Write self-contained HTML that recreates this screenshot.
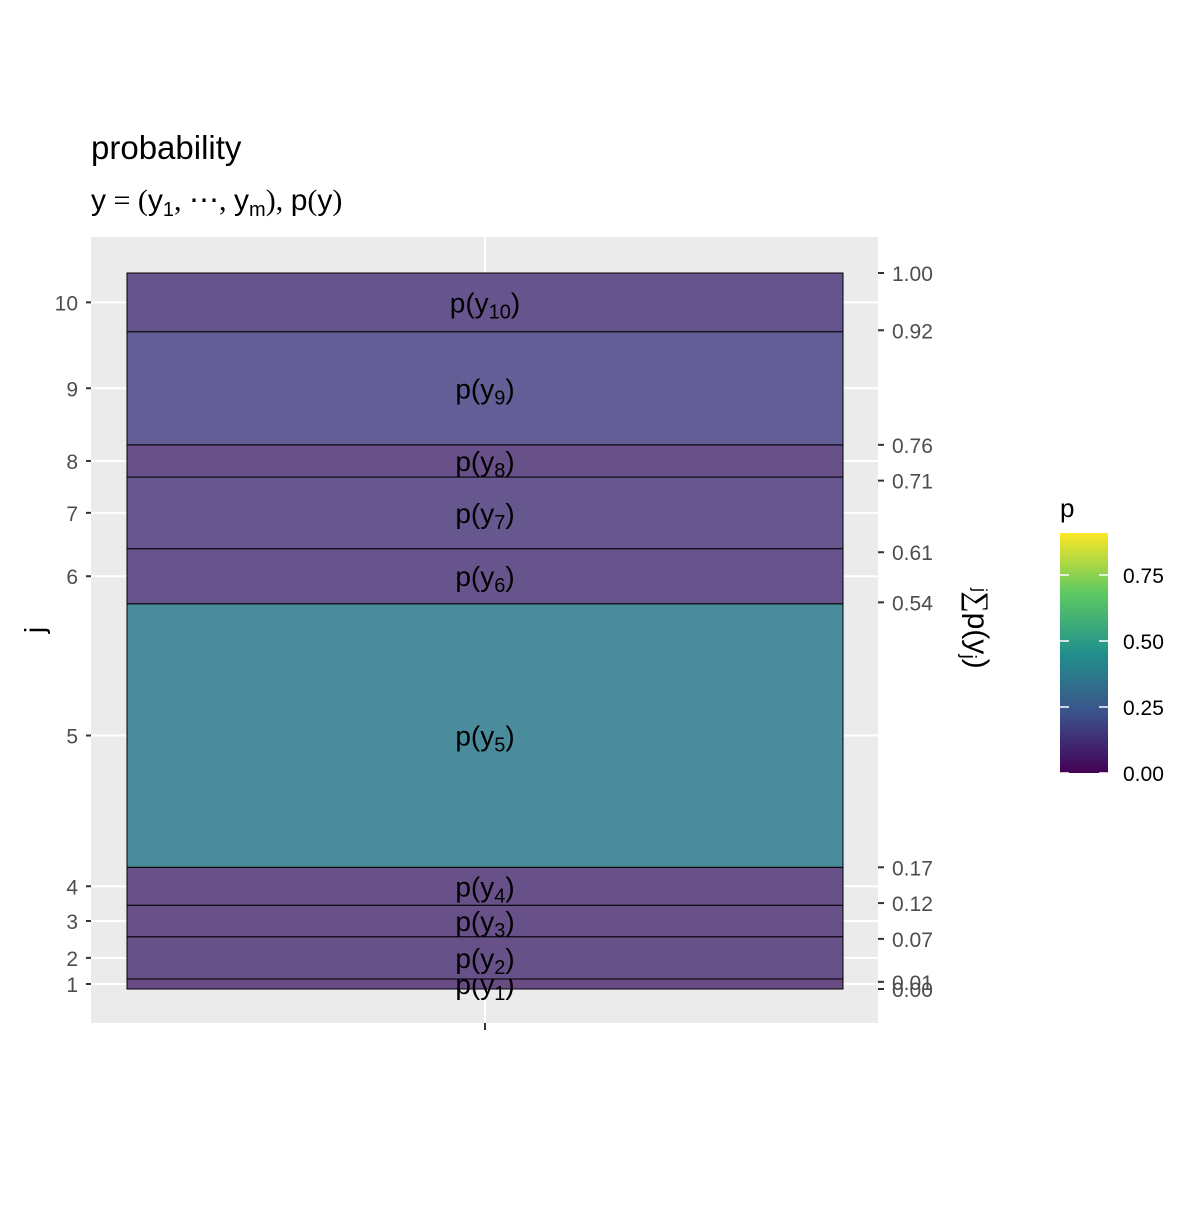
<!DOCTYPE html>
<html><head><meta charset="utf-8"><style>
body{margin:0;background:#fff}
svg{font-family:"Liberation Sans",sans-serif}
</style></head><body>
<svg id="c" width="1200" height="1200" xmlns="http://www.w3.org/2000/svg">
<defs><linearGradient id="vir" x1="0" y1="1" x2="0" y2="0">
<stop offset="0" stop-color="#440154"/><stop offset="0.25" stop-color="#3b528b"/><stop offset="0.5" stop-color="#21908c"/><stop offset="0.75" stop-color="#5dc963"/><stop offset="1" stop-color="#fde725"/></linearGradient></defs>
<rect width="1200" height="1200" fill="#fff"/>
<text x="91" y="159" font-size="33">probability</text>
<text x="91" y="210" font-size="30" font-family="Liberation Serif"><tspan font-family="Liberation Sans">y</tspan> = (<tspan font-family="Liberation Sans">y</tspan><tspan font-size="20" dy="6" font-family="Liberation Sans">1</tspan><tspan dy="-6">, ⋯, </tspan><tspan font-family="Liberation Sans">y</tspan><tspan font-size="20" dy="6" font-family="Liberation Sans">m</tspan><tspan dy="-6">), </tspan><tspan font-family="Liberation Sans">p</tspan>(<tspan font-family="Liberation Sans">y</tspan>)</text>
<rect x="91" y="237" width="787" height="786" fill="#ebebeb"/>
<g id="grid"></g>
<g id="bars"></g>
<g id="axes"></g>
<text transform="translate(44,630) rotate(-90)" text-anchor="middle" font-size="28">j</text>
<g transform="translate(968,630) rotate(90)">
<text x="0" y="0" text-anchor="middle" font-size="30"><tspan font-family="Liberation Serif">∑</tspan>p(y<tspan font-size="20" dy="6">j</tspan><tspan dy="-6">)</tspan></text>
<text x="-40" y="-6" font-size="18" text-anchor="middle" transform="rotate(0)">j</text>
</g>
<text x="1060" y="517" font-size="26">p</text>
<rect x="1060" y="533" width="48" height="240" fill="url(#vir)"/>
<g id="legend"></g>
</svg>
<script>
const probs=[0.014,0.059,0.044,0.053,0.368,0.077,0.100,0.045,0.158,0.082];
const cumTicks=["0.00","0.01","0.07","0.12","0.17","0.54","0.61","0.71","0.76","0.92","1.00"];
const legendTicks=[0,0.25,0.5,0.75];
const legendLabels=["0.00","0.25","0.50","0.75"];
const NS="http://www.w3.org/2000/svg";
const y=v=>989-v*716;
const lg=v=>773-v*264;
function mk(t,a,p){const e=document.createElementNS(NS,t);for(const k in a)e.setAttribute(k,a[k]);p.appendChild(e);return e;}
const stops=[[0,[106,74,130]],[0.16,[99,94,150]],[0.37,[74,140,156]],[0.6,[90,170,120]],[0.9,[240,230,80]]];
function col(p){for(let i=0;i<stops.length-1;i++){const[a,ca]=stops[i],[b,cb]=stops[i+1];if(p<=b){const t=Math.max(0,(p-a)/(b-a));return `rgb(${ca.map((c,k)=>Math.round(c+(cb[k]-c)*t)).join(',')})`;}}return 'rgb(240,230,80)';}
const G=document.getElementById('grid'),B=document.getElementById('bars'),A=document.getElementById('axes'),L=document.getElementById('legend');
let e=mk('line',{x1:485,x2:485,y1:237,y2:1023,stroke:'#fff','stroke-width':2},G);

let cum=0;const mids=[];
probs.forEach((p,i)=>{const y0=y(cum),y1=y(cum+p);const m=(y0+y1)/2;mids.push(m);
 let g=mk('line',{x1:91,x2:878,y1:m,y2:m,stroke:'#fff','stroke-width':2},G);
 
 cum+=p;});
cum=0;
probs.forEach((p,i)=>{const y0=y(cum),y1=y(cum+p);
 let r=mk('rect',{x:127,y:y1,width:716,height:y0-y1,fill:col(p),stroke:'#000','stroke-width':1},B);
 
 let t=mk('text',{x:485,y:mids[i]+10,'text-anchor':'middle','font-size':28},B);
 t.innerHTML=`p(y<tspan font-size="20" dy="6">${i+1}</tspan><tspan dy="-6">)</tspan>`;
 
 let tk=mk('line',{x1:86,x2:91,y1:mids[i],y2:mids[i],stroke:'#333','stroke-width':2},A);
 
 let tl=mk('text',{x:78,y:mids[i]+8,'text-anchor':'end','font-size':21,fill:'#4d4d4d'},A);tl.textContent=i+1;
 
 cum+=p;});
cumTicks.forEach(s=>{const v=parseFloat(s),yy=y(v);
 let tk=mk('line',{x1:878,x2:884,y1:yy,y2:yy,stroke:'#333','stroke-width':2},A);
 
 let tl=mk('text',{x:892,y:yy+8,'font-size':21,fill:'#4d4d4d'},A);tl.textContent=s;
 });
let xt=mk('line',{x1:485,x2:485,y1:1023,y2:1030,stroke:'#333','stroke-width':2},A);

legendTicks.forEach((v,i)=>{const yy=lg(v);
 let a=mk('line',{x1:1060,x2:1069,y1:yy,y2:yy,stroke:'#fff','stroke-width':1.5},L);
 
 let b=mk('line',{x1:1099,x2:1108,y1:yy,y2:yy,stroke:'#fff','stroke-width':1.5},L);
 
 let t=mk('text',{x:1123,y:yy+8,'font-size':21},L);t.textContent=legendLabels[i];
 });
</script>
</body></html>
